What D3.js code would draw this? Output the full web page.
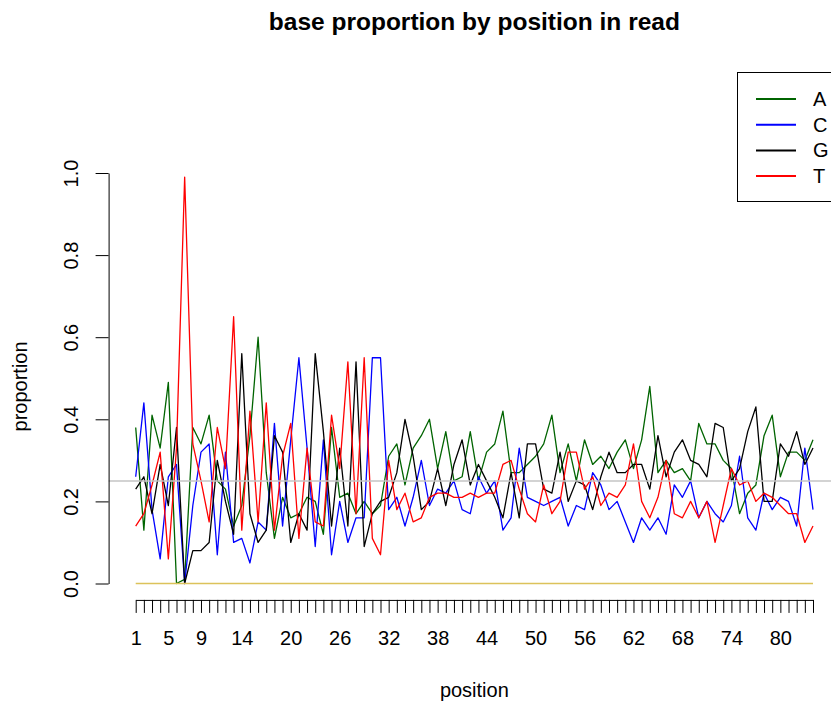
<!DOCTYPE html>
<html>
<head>
<meta charset="utf-8">
<script src="https://cdn.jsdelivr.net/npm/d3@7"></script>
<style>
	body { margin: 0; background: #fff; }
	svg { font-family: "Liberation Sans", Arial, sans-serif; }
	.axis path, .axis line { stroke: #000; }
	.series { fill: none; stroke-width: 1.3; stroke-linejoin: round; }
</style>
</head>
<body>
<svg width="831" height="708" id="chart"></svg>
<script>

	// base proportions per read position
	var A = [0.38,0.13,0.41,0.33,0.49,0.00,0.01,0.38,0.34,0.41,
		0.25,0.23,0.14,0.19,0.36,0.60,0.27,0.11,0.21,0.16,
		0.17,0.21,0.20,0.12,0.38,0.21,0.22,0.17,0.20,0.17,
		0.19,0.31,0.34,0.24,0.33,0.36,0.40,0.28,0.37,0.25,
		0.26,0.37,0.25,0.32,0.34,0.42,0.27,0.27,0.29,0.31,
		0.34,0.41,0.27,0.34,0.25,0.35,0.29,0.31,0.28,0.32,
		0.35,0.28,0.35,0.48,0.27,0.30,0.27,0.28,0.25,0.39,
		0.34,0.34,0.30,0.28,0.17,0.22,0.24,0.36,0.41,0.26,
		0.32,0.32,0.30,0.35];

	var C = [0.26,0.44,0.18,0.06,0.26,0.29,0.00,0.19,0.32,0.34,
		0.07,0.32,0.10,0.11,0.05,0.15,0.13,0.39,0.14,0.35,
		0.55,0.33,0.09,0.35,0.07,0.20,0.10,0.16,0.16,0.55,
		0.55,0.18,0.21,0.14,0.21,0.30,0.19,0.23,0.22,0.25,
		0.18,0.17,0.26,0.22,0.25,0.13,0.16,0.33,0.21,0.20,
		0.19,0.20,0.21,0.14,0.19,0.18,0.27,0.24,0.18,0.20,
		0.15,0.10,0.16,0.13,0.16,0.12,0.24,0.21,0.25,0.16,
		0.20,0.17,0.15,0.19,0.31,0.16,0.13,0.22,0.18,0.21,
		0.20,0.14,0.33,0.18];

	var G = [0.23,0.26,0.17,0.29,0.19,0.38,0.00,0.08,0.08,0.10,
		0.30,0.20,0.12,0.56,0.17,0.10,0.13,0.36,0.32,0.10,
		0.17,0.13,0.56,0.37,0.14,0.33,0.14,0.54,0.09,0.17,
		0.20,0.21,0.27,0.40,0.31,0.18,0.20,0.28,0.19,0.29,
		0.35,0.24,0.29,0.25,0.21,0.16,0.27,0.16,0.34,0.34,
		0.23,0.22,0.32,0.20,0.25,0.24,0.18,0.26,0.32,0.27,
		0.27,0.29,0.29,0.23,0.36,0.26,0.32,0.35,0.30,0.29,
		0.26,0.39,0.38,0.25,0.28,0.37,0.43,0.20,0.20,0.34,
		0.31,0.37,0.29,0.33];

	var T = [0.14,0.17,0.24,0.32,0.06,0.33,0.99,0.34,0.25,0.15,
		0.38,0.28,0.65,0.13,0.42,0.15,0.44,0.13,0.31,0.39,
		0.11,0.33,0.15,0.14,0.41,0.28,0.54,0.17,0.55,0.11,
		0.07,0.30,0.18,0.22,0.15,0.16,0.21,0.22,0.22,0.21,
		0.21,0.22,0.21,0.22,0.22,0.29,0.30,0.23,0.17,0.15,
		0.24,0.17,0.20,0.32,0.32,0.23,0.26,0.19,0.22,0.21,
		0.24,0.34,0.20,0.16,0.21,0.30,0.17,0.16,0.20,0.16,
		0.20,0.10,0.19,0.28,0.24,0.25,0.20,0.22,0.21,0.19,
		0.17,0.17,0.10,0.14];

	var N = [0,0,0,0,0,0,0,0,0,0, 0,0,0,0,0,0,0,0,0,0,
		0,0,0,0,0,0,0,0,0,0, 0,0,0,0,0,0,0,0,0,0,
		0,0,0,0,0,0,0,0,0,0, 0,0,0,0,0,0,0,0,0,0,
		0,0,0,0,0,0,0,0,0,0, 0,0,0,0,0,0,0,0,0,0,
		0,0,0,0];

	var xLabels = [1, 5, 9, 14, 20, 26, 32, 38, 44, 50, 56, 62, 68, 74, 80];
	var yTicks = [0, 0.2, 0.4, 0.6, 0.8, 1.0];
	var bases = ["A", "C", "G", "T"];
	var colors = ["#006400", "#0000ff", "#000000", "#ff0000"];
	var expected = 0.25;

	var positions = A.map(function(d, i) { return i + 1; });

	var svg = d3.select("svg#chart");

	var x = d3.scaleLinear()
		.domain([1, positions.length])
		.range([135.7, 813]);

	var y = d3.scaleLinear()
		.domain([0, 1])
		.range([583.5, 173]);

	var plotLeft = x(1 - 0.04 * (positions.length - 1)),
		plotRight = x(positions.length + 0.04 * (positions.length - 1)),
		plotBottom = y(-0.04);

	var line = d3.line()
		.x(function(d, i) { return x(positions[i]); })
		.y(function(d) { return y(d); });

	// one line per base
	[A, C, G, T].forEach(function(s, k) {
		svg.append("path")
			.datum(s)
			.attr("class", "series")
			.attr("stroke", colors[k])
			.attr("d", line);
	});

	svg.append("path")
		.datum(N)
		.attr("class", "series")
		.attr("stroke", "#dcc25a")
		.attr("d", line);

	// expected proportion
	svg.append("line")
		.attr("x1", plotLeft).attr("x2", plotRight)
		.attr("y1", y(expected)).attr("y2", y(expected))
		.attr("stroke", "#c4c4c4")
		.attr("stroke-width", 1.5);

	// x axis: every position ticked, only some labelled
	svg.append("g")
		.attr("class", "axis")
		.attr("transform", "translate(0," + plotBottom + ")")
		.call(d3.axisBottom(x)
			.tickValues(positions)
			.tickSize(13)
			.tickSizeOuter(0)
			.tickPadding(18)
			.tickFormat(function(d) { return xLabels.indexOf(d) >= 0 ? d : ""; }))
		.selectAll("text")
		.attr("font-size", 20)
		.attr("font-family", null)
		.attr("fill", "#000");

	// y axis
	var yAxis = svg.append("g")
		.attr("class", "axis")
		.attr("transform", "translate(" + plotLeft + ",0)")
		.call(d3.axisLeft(y)
			.tickValues(yTicks)
			.tickSize(13)
			.tickSizeOuter(0)
			.tickFormat(d3.format(".1f")));

	yAxis.selectAll("text")
		.attr("x", null).attr("dy", null)
		.attr("font-size", 20)
		.attr("font-family", null)
		.attr("fill", "#000")
		.attr("text-anchor", "middle")
		.attr("transform", "translate(-31,0) rotate(-90)");

	svg.selectAll(".axis path.domain").attr("stroke-width", 1);

	// titles
	svg.append("text")
		.attr("x", (plotLeft + plotRight) / 2)
		.attr("y", 30)
		.attr("text-anchor", "middle")
		.attr("font-size", 24.5)
		.attr("font-weight", "bold")
		.text("base proportion by position in read");

	svg.append("text")
		.attr("x", (plotLeft + plotRight) / 2)
		.attr("y", 697)
		.attr("text-anchor", "middle")
		.attr("font-size", 20)
		.text("position");

	svg.append("text")
		.attr("transform", "translate(27," + (173 + plotBottom) / 2 + ") rotate(-90)")
		.attr("text-anchor", "middle")
		.attr("font-size", 20)
		.text("proportion");

	// legend
	var legend = svg.append("g");

	legend.append("rect")
		.attr("x", 737.5).attr("y", 72.5)
		.attr("width", 120).attr("height", 129)
		.attr("fill", "#fff")
		.attr("stroke", "#000");

	bases.forEach(function(b, k) {
		var ly = 99 + k * 25.7;
		legend.append("line")
			.attr("x1", 756).attr("x2", 796)
			.attr("y1", ly).attr("y2", ly)
			.attr("stroke", colors[k])
			.attr("stroke-width", 2);
		legend.append("text")
			.attr("x", 813).attr("y", ly + 7)
			.attr("font-size", 20)
			.text(b);
	});
</script>
</body>
</html>
